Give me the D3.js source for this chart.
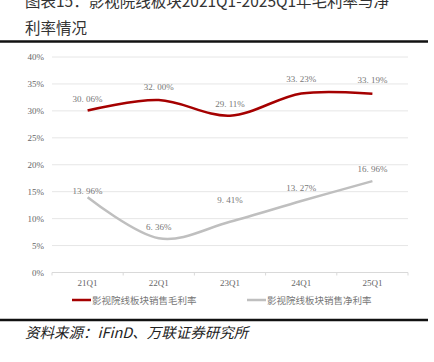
<!DOCTYPE html>
<meta charset="utf-8">
<script src="https://cdn.jsdelivr.net/npm/d3@7"></script>
<style>
body { margin: 0; background: #fff; }
text { font-family: "Liberation Serif", "Noto Sans CJK SC", serif; }
.cjk { font-family: "Noto Sans CJK SC", sans-serif; }
</style>
<body>
<script>

var categories = ["21Q1", "22Q1", "23Q1", "24Q1", "25Q1"];
var grossMargin = [30.06, 32.00, 29.11, 33.23, 33.19];
var netMargin = [13.96, 6.36, 9.41, 13.27, 16.96];
var yTicks = [0, 5, 10, 15, 20, 25, 30, 35, 40];
var seriesNames = ["影视院线板块销售毛利率", "影视院线板块销售净利率"];

var width = 434, height = 362;

var svg = d3.select("body").append("svg")
    .attr("width", width)
    .attr("height", height);

svg.append("rect").attr("width", width).attr("height", height).attr("fill", "#fff");

// title (two lines, partly cut at top like the reference)
svg.append("text").attr("class", "cjk")
    .attr("x", 25).attr("y", 7)
    .attr("font-size", 15.5).attr("fill", "#333")
    .text("图表15：影视院线板块2021Q1-2025Q1年毛利率与净");
svg.append("text").attr("class", "cjk")
    .attr("x", 25).attr("y", 34)
    .attr("font-size", 15.5).attr("fill", "#333")
    .text("利率情况");

// rules
svg.append("line").attr("x1", 0).attr("x2", 428).attr("y1", 41.5).attr("y2", 41.5)
    .attr("stroke", "#111").attr("stroke-width", 2.5);
svg.append("line").attr("x1", 0).attr("x2", 428).attr("y1", 320).attr("y2", 320)
    .attr("stroke", "#111").attr("stroke-width", 2.5);

var x = d3.scaleBand().domain(categories).range([52, 408]);
var y = d3.scaleLinear().domain([0, 40]).range([272.5, 57]);

// gridlines
svg.append("g").selectAll("line")
    .data(yTicks.filter(function(d) { return d > 0; }))
    .enter().append("line")
    .attr("x1", 52).attr("x2", 408)
    .attr("y1", function(d) { return y(d); })
    .attr("y2", function(d) { return y(d); })
    .attr("stroke", "#e6e6e6").attr("stroke-width", 1);

// y axis labels
svg.append("g").selectAll("text")
    .data(yTicks)
    .enter().append("text")
    .attr("x", 44).attr("y", function(d) { return y(d) + 3; })
    .attr("text-anchor", "end")
    .attr("font-size", 9).attr("fill", "#666")
    .text(function(d) { return d + "%"; });

// x axis
var xAxis = svg.append("g")
    .attr("transform", "translate(0," + y(0) + ")");
xAxis.append("line").attr("x1", 52).attr("x2", 408)
    .attr("stroke", "#d9d9d9");
xAxis.selectAll("line.tick")
    .data(categories.concat([null]))
    .enter().append("line").attr("class", "tick")
    .attr("x1", function(d, i) { return 52 + i * x.bandwidth(); })
    .attr("x2", function(d, i) { return 52 + i * x.bandwidth(); })
    .attr("y1", 0).attr("y2", 3)
    .attr("stroke", "#d9d9d9");
xAxis.selectAll("text")
    .data(categories)
    .enter().append("text")
    .attr("x", function(d) { return x(d) + x.bandwidth() / 2; })
    .attr("y", 13)
    .attr("text-anchor", "middle")
    .attr("font-size", 9).attr("fill", "#666")
    .text(function(d) { return d; });

var line = d3.line()
    .x(function(d, i) { return x(categories[i]) + x.bandwidth() / 2; })
    .y(function(d) { return y(d); })
    .curve(d3.curveCardinal.tension(0));

var series = [
  {values: grossMargin, color: "#a50000", dy: [-12, -13, -12, -14, -14]},
  {values: netMargin, color: "#bfbfbf", dy: [-6, -11, -22, -13, -12]}
];

series.forEach(function(s) {
  svg.append("path")
      .attr("d", line(s.values))
      .attr("fill", "none")
      .attr("stroke", s.color)
      .attr("stroke-width", 2.5);

  svg.append("g").selectAll("text")
      .data(s.values)
      .enter().append("text")
      .attr("x", function(d, i) { return x(categories[i]) + x.bandwidth() / 2; })
      .attr("y", function(d, i) { return y(d) + s.dy[i] + 3; })
      .attr("text-anchor", "middle")
      .attr("font-size", 9).attr("fill", "#777")
      .text(function(d) { return d.toFixed(2).replace(".", ". ") + "%"; });
});

// legend
var legendX = [72, 247];
series.forEach(function(s, i) {
  svg.append("line")
      .attr("x1", legendX[i]).attr("x2", legendX[i] + 19)
      .attr("y1", 300).attr("y2", 300)
      .attr("stroke", s.color).attr("stroke-width", 2.5);
  svg.append("text").attr("class", "cjk")
      .attr("x", legendX[i] + 20).attr("y", 303.5)
      .attr("font-size", 9.5).attr("fill", "#777")
      .text(seriesNames[i]);
});

// source
svg.append("text").attr("class", "cjk")
    .attr("x", 25).attr("y", 338)
    .attr("font-size", 14.5).attr("font-style", "italic").attr("fill", "#222")
    .text("资料来源：iFinD、万联证券研究所");

</script>
</body>
